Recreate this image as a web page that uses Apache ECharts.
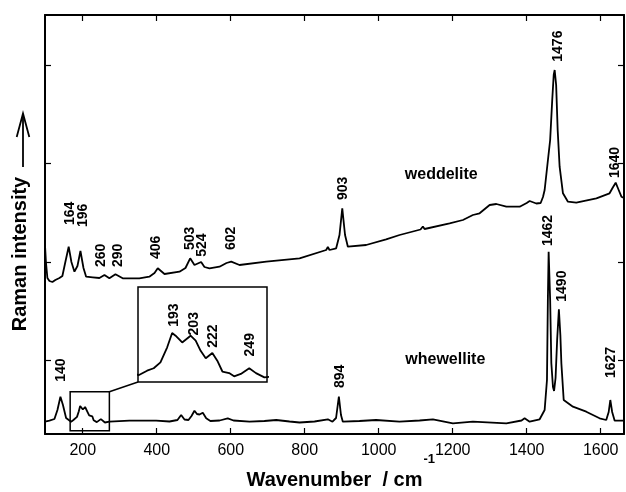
<!DOCTYPE html>
<html><head><meta charset="utf-8">
<script src="https://cdn.jsdelivr.net/npm/echarts@6/dist/echarts.min.js"></script>
<style>html,body{margin:0;padding:0;background:#fff}#c{width:626px;height:492px}</style>
</head><body><div id="c"></div>
<script>
// ---------------- data ----------------
const weddelite = [[98,189],[100.5,172],[104.5,156],[110,153],[118,152],[126,154],[137,156],[145,158],[153,172],[162,187.3],[169.4,172],[177.6,162.3],[185.7,168],[193.8,183],[202,166],[209.2,157.3],[227,156.7],[245,156],[258.7,159],[272,155.7],[288.4,159.7],[308,155.7],[353,155.7],[380,157.3],[394,161],[402.8,165.7],[421,160],[461.5,162.3],[477.7,166],[490.4,175.7],[502,169],[520,172],[529,167],[542.6,165.7],[569.7,167.3],[588.6,171],[601.3,172.3],[623.7,169],[696,172.3],[786,175.7],[858,184],[862.5,187],[867,184],[885,185.7],[894,199],[901.5,225.7],[909,199],[916.6,187.3],[966,189],[1020,194.7],[1056.4,199],[1113,204.5],[1119.4,207.5],[1124,205],[1191.6,210.7],[1227.6,214],[1254.6,219],[1272.7,220.7],[1299.8,229],[1318,230],[1345,227.3],[1381,227.3],[1400,231],[1408,233],[1426,230.5],[1437.7,231],[1444,237],[1448.5,244],[1457.4,274],[1463.4,294],[1469,334],[1473,359],[1475.6,364],[1479.6,349],[1483.7,304],[1489,267.3],[1498,240.7],[1511.5,232.3],[1534,231.3],[1588.4,235.7],[1624,240.7],[1632,246],[1640.5,251.3],[1648.6,244],[1656,237.3],[1663,236]];

const whewellite = [[98,12.3],[110,13.3],[123.5,15],[131.6,24],[139.7,37.3],[146.5,29],[155,16],[168.6,12.3],[174.8,14.0],[179.6,14.9],[184.5,17.1],[189.4,22.7],[193,28.0],[195.5,27.0],[200.3,24.5],[206.4,27.0],[210.1,25.2],[213.7,21.4],[217.4,18.6],[222.2,20.6],[225.8,17.7],[229.5,13.7],[234.4,13.1],[238,11.9],[242.9,12.8],[249,14.9],[253.9,13.1],[260,11.5],[272,12.3],[326,13.3],[398.5,13.3],[434.5,12.5],[456,14],[466,19],[475,14.5],[485.8,14],[494,18],[502,23.3],[508.8,20],[515.6,19.5],[524.5,21.3],[533.7,15.7],[545,13],[570,13.5],[592,15.7],[607.5,13.5],[650.8,12.3],[691,13],[723,14],[759,12.5],[786,11.5],[826.6,12.5],[862.5,14.7],[875,12.3],[884.7,16],[892.3,37.3],[898,19],[903,12.3],[948,13],[993,14],[1056,12.3],[1110.5,13.5],[1146.5,14.7],[1200.5,10.7],[1254.6,12.3],[1345,10.7],[1386,13.5],[1394.4,15.7],[1408,12.3],[1435,14.7],[1448.5,24],[1454.8,54],[1457.2,134],[1459.3,182.3],[1463.4,134],[1466.6,70.7],[1471,47],[1474,43],[1478,56],[1482.3,94],[1487,124.7],[1491,99],[1493.7,70.7],[1500,34],[1525,27.3],[1561,22.3],[1597,15.7],[1615,14],[1621.6,22],[1626,34],[1631,22],[1637.8,13.3],[1663,13.3]];

// peak annotations: [text, wavenumber, intensity of label foot]
const peakLabels = [['164',166.7,209],['196',202,207],['260',250.6,167],['290',296.5,167],['406',398.5,175],['503',491,184],['524',523.7,177.3],['602',600,184],['903',905,234],['1476',1485.6,372.3],['1640',1640,256],['1462',1458.8,188],['1490',1494.5,132.3],['1627',1627,56],['894',897,46],['140',141.6,52.3]];
const insetLabels = [['193',194.6,30.3],['203',208.8,27.1],['222',222.5,22.5],['249',249.4,19.3]];
const sampleNames = [['weddelite',1169,259],['whewellite',1180,74]];

const xTicks = [200,400,600,800,1000,1200,1400,1600];
const yTicks = [74,172,271,369];
const xRange = [98,1663];
const yRange = [0,419];
const insetX = [168.2,261.9];
const insetY = [9.8,45.1];
const zoomBox = [[166,3.3],[272,42.3]];
const xName = 'Wavenumber  / cm';
const xNameSup = '-1';

// ---------------- chart ----------------
const FONT = '"Liberation Sans", Arial, Helvetica, sans-serif';
const chart = echarts.init(document.getElementById('c'));
const axisLineStyle = {show:true,onZero:false,lineStyle:{color:'#000',width:2}};
function frameX(pos, labels){
  return {type:'value',gridIndex:0,min:xRange[0],max:xRange[1],position:pos,
    axisLine:axisLineStyle,
    axisTick:{show:true,inside:true,length:6,customValues:xTicks,lineStyle:{color:'#000',width:1.2}},
    axisLabel:labels?{show:true,customValues:xTicks,formatter:v=>String(v),fontSize:16,color:'#000',fontFamily:FONT,margin:9}:{show:false},
    splitLine:{show:false}};
}
function frameY(pos){
  return {type:'value',gridIndex:0,min:yRange[0],max:yRange[1],position:pos,
    axisLine:axisLineStyle,
    axisTick:{show:true,inside:true,length:6,customValues:yTicks,lineStyle:{color:'#000',width:1.2}},
    axisLabel:{show:false},splitLine:{show:false}};
}
const xb = frameX('bottom',true);
xb.name = xName;
xb.nameLocation = 'middle';
xb.nameGap = 36;
xb.nameTextStyle = {fontSize:20,fontWeight:'bold',color:'#000',fontFamily:FONT};

const txt = {color:'#000',opacity:1,textBorderWidth:0,textShadowBlur:0,fontWeight:'bold',fontFamily:FONT};
const labelStyle = (size)=>Object.assign({show:true,position:'inside',rotate:90,align:'left',verticalAlign:'middle',
  formatter:'{b}',fontSize:size}, txt);
const labelSeries = (xi, yi, list, label, z)=>({type:'scatter',xAxisIndex:xi,yAxisIndex:yi,symbolSize:0,
  itemStyle:{color:'#000'},silent:true,z:z,
  data:list.map(p=>({name:p[0],value:[p[1],p[2]]})),label:label,
  emphasis:{disabled:true}});

chart.setOption({
  animation:false,
  backgroundColor:'#fff',
  grid:[
    {left:45,right:2,top:15,bottom:58,containLabel:false,outerBoundsMode:'none'},
    {left:138,top:287,width:129,height:95,show:true,borderColor:'#000',borderWidth:1.5,backgroundColor:'#fff',containLabel:false,outerBoundsMode:'none'}
  ],
  xAxis:[xb, frameX('top',false),
    {type:'value',gridIndex:1,min:insetX[0],max:insetX[1],show:false}],
  yAxis:[frameY('left'), frameY('right'),
    {type:'value',gridIndex:1,min:insetY[0],max:insetY[1],show:false}],
  series:[
    {type:'line',name:'weddelite',xAxisIndex:0,yAxisIndex:0,data:weddelite,showSymbol:false,
      lineStyle:{color:'#000',width:1.8},silent:true},
    {type:'line',name:'whewellite',xAxisIndex:0,yAxisIndex:0,data:whewellite,showSymbol:false,
      lineStyle:{color:'#000',width:1.8},silent:true,
      markArea:{silent:true,itemStyle:{color:'rgba(0,0,0,0)',borderColor:'#000',borderWidth:1.5},
        data:[[{coord:zoomBox[0]},{coord:zoomBox[1]}]]}},
    {type:'line',name:'inset',xAxisIndex:2,yAxisIndex:2,
      data:whewellite.filter(p=>p[0]>=150&&p[0]<=280),showSymbol:false,clip:true,
      lineStyle:{color:'#000',width:1.8},silent:true,z:5},
    labelSeries(0,0,peakLabels,labelStyle(14),3),
    labelSeries(2,2,insetLabels,labelStyle(14),6),
    labelSeries(0,0,sampleNames,Object.assign({show:true,position:'inside',formatter:'{b}',fontSize:16},txt),3)
  ]
});

// superscript of the axis unit, placed right after the measured axis name
const ctx = document.createElement('canvas').getContext('2d');
ctx.font = 'bold 20px ' + FONT;
const nameW = ctx.measureText(xName).width;
const gl = chart.convertToPixel({xAxisIndex:0,yAxisIndex:0},[xRange[0],yRange[0]]);
const gr = chart.convertToPixel({xAxisIndex:0,yAxisIndex:0},[xRange[1],yRange[0]]);
const nameCx = (gl[0]+gr[0])/2;

const p1 = chart.convertToPixel({xAxisIndex:0,yAxisIndex:0},[zoomBox[1][0],zoomBox[1][1]]);
const p2 = chart.convertToPixel({xAxisIndex:2,yAxisIndex:2},[insetX[0],insetY[0]]);
chart.setOption({graphic:[
  {type:'line',id:'conn',shape:{x1:p1[0],y1:p1[1],x2:p2[0],y2:p2[1]},style:{stroke:'#000',lineWidth:1.5},silent:true},
  {type:'text',id:'sup',x:nameCx+nameW/2+1,y:gl[1]+25,
    style:{text:xNameSup,fontSize:13,fontWeight:'bold',fontFamily:FONT,fill:'#000',align:'left',verticalAlign:'middle'}},
  {type:'text',id:'yname',x:20,y:254,rotation:Math.PI/2,
    style:{text:'Raman intensity',fontSize:20,fontWeight:'bold',fontFamily:FONT,fill:'#000',align:'center',verticalAlign:'middle'}},
  {type:'line',id:'arrShaft',shape:{x1:23,y1:167,x2:23,y2:114},style:{stroke:'#000',lineWidth:1.8}},
  {type:'polyline',id:'arrHead',shape:{points:[[16.7,137],[23,113.5],[29.3,137]]},style:{stroke:'#000',lineWidth:1.8,fill:null}}
]});
</script>
</body></html>
